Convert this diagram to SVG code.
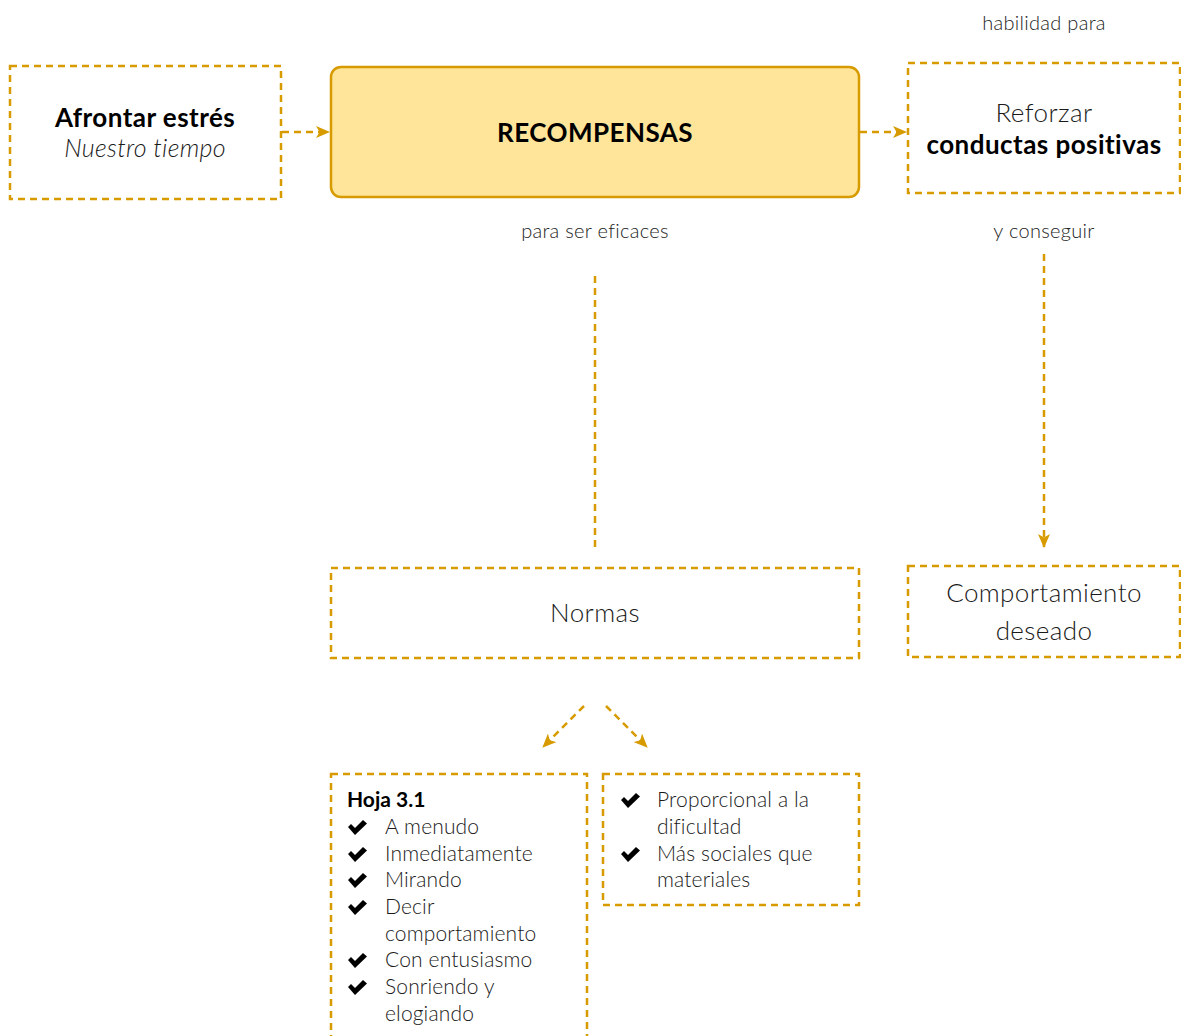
<svg xmlns="http://www.w3.org/2000/svg" width="1181" height="1036" viewBox="0 0 1181 1036">
<defs>
<style>
.box{fill:#fff;stroke:#D79B00;stroke-width:2.5;stroke-dasharray:7 5}
.main{fill:#FFE599;stroke:#D79B00;stroke-width:2.5}
.edge{fill:none;stroke:#D79B00;stroke-width:2.5;stroke-dasharray:7 5}
text{font-family:Lato,"Liberation Sans",sans-serif;fill:#1a1a1a}
.lt{font-size:26px;font-weight:300;letter-spacing:0.4px}
.ital{font-size:25px;font-weight:300;font-style:italic;letter-spacing:0.3px}
.b{font-size:26px;font-weight:700;fill:#000;letter-spacing:0.45px}
.lbl{font-size:20px;font-weight:300;fill:#222;letter-spacing:0.3px}
.it{font-size:21px;font-weight:300;letter-spacing:0.15px}
.hb{font-size:21px;font-weight:700;fill:#000}
.chk{fill:#000}
</style>
<marker id="ah" viewBox="0 0 14 12" refX="13" refY="6" markerWidth="14" markerHeight="12" markerUnits="userSpaceOnUse" orient="auto">
<path d="M0,0 L14,6 L0,12 L3.5,6 Z" fill="#D79B00"/>
</marker>
<path id="ck" d="M0,7 L3,4 L7,8 L15,0 L19,3.5 L7,15 Z"/>
</defs>

<g id="connectors">
<line class="edge" x1="282" y1="132" x2="329" y2="132" marker-end="url(#ah)"/>
<line class="edge" x1="860" y1="132" x2="906" y2="132" marker-end="url(#ah)"/>
<line class="edge" x1="595" y1="276" x2="595" y2="548"/>
<line class="edge" x1="1044" y1="254" x2="1044" y2="547" marker-end="url(#ah)"/>
<line class="edge" x1="584" y1="706" x2="543" y2="747" marker-end="url(#ah)"/>
<line class="edge" x1="606" y1="706" x2="647" y2="747" marker-end="url(#ah)"/>
</g>

<g id="lbl-habilidad"><text class="lbl" x="1044" y="30" text-anchor="middle">habilidad para</text></g>
<g id="lbl-eficaces"><text class="lbl" x="595" y="238" text-anchor="middle">para ser eficaces</text></g>
<g id="lbl-conseguir"><text class="lbl" x="1044" y="238" text-anchor="middle">y conseguir</text></g>

<g id="afrontar">
<rect class="box" x="10" y="66" width="271" height="133"/>
<text x="145" y="127" text-anchor="middle" class="b">Afrontar estrés</text>
<text x="145" y="157" text-anchor="middle" class="ital">Nuestro tiempo</text>
</g>

<g id="recompensas">
<rect class="main" x="331" y="67" width="528" height="130" rx="10"/>
<text x="595" y="142" text-anchor="middle" class="b">RECOMPENSAS</text>
</g>

<g id="reforzar">
<rect class="box" x="908" y="63" width="272" height="130"/>
<text x="1044" y="122" text-anchor="middle" class="lt">Reforzar</text>
<text x="1044" y="154" text-anchor="middle" class="b">conductas positivas</text>
</g>

<g id="normas">
<rect class="box" x="331" y="568" width="528" height="90"/>
<text x="595" y="622" text-anchor="middle" class="lt">Normas</text>
</g>

<g id="comportamiento">
<rect class="box" x="908" y="566" width="272" height="91"/>
<text x="1044" y="602" text-anchor="middle" class="lt">Comportamiento</text>
<text x="1044" y="640" text-anchor="middle" class="lt">deseado</text>
</g>

<g id="hoja">
<rect class="box" x="331" y="774" width="256" height="280"/>
<text x="347" y="807" class="hb">Hoja 3.1</text>
<use href="#ck" class="chk" x="348" y="820"/>
<text x="385" y="834" class="it">A menudo</text>
<use href="#ck" class="chk" x="348" y="847"/>
<text x="385" y="861" class="it">Inmediatamente</text>
<use href="#ck" class="chk" x="348" y="873"/>
<text x="385" y="887" class="it">Mirando</text>
<use href="#ck" class="chk" x="348" y="900"/>
<text x="385" y="914" class="it">Decir</text>
<text x="385" y="941" class="it">comportamiento</text>
<use href="#ck" class="chk" x="348" y="953"/>
<text x="385" y="967" class="it">Con entusiasmo</text>
<use href="#ck" class="chk" x="348" y="980"/>
<text x="385" y="994" class="it">Sonriendo y</text>
<text x="385" y="1021" class="it">elogiando</text>
</g>

<g id="proporcional">
<rect class="box" x="603" y="774" width="256" height="131"/>
<use href="#ck" class="chk" x="621" y="793"/>
<text x="657" y="807" class="it">Proporcional a la</text>
<text x="657" y="834" class="it">dificultad</text>
<use href="#ck" class="chk" x="621" y="847"/>
<text x="657" y="861" class="it">Más sociales que</text>
<text x="657" y="887" class="it">materiales</text>
</g>
</svg>
